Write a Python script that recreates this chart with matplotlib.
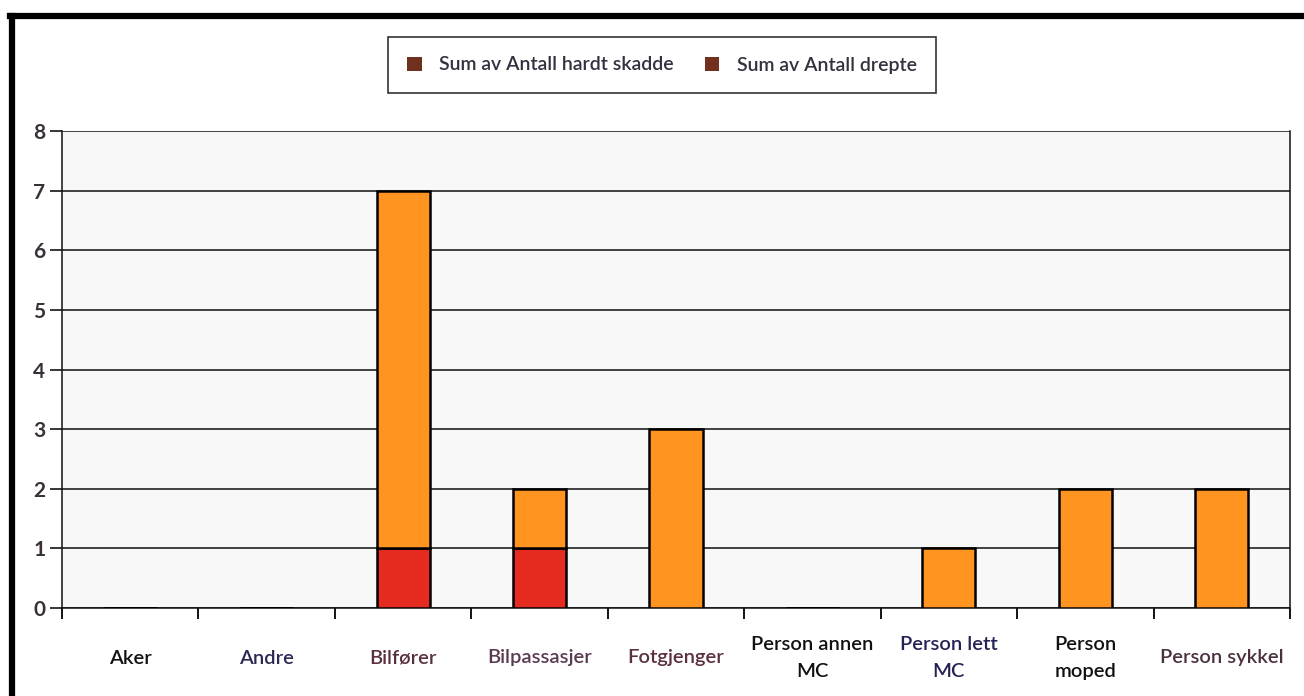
import matplotlib.pyplot as plt
import numpy as np
from matplotlib.patches import Patch
from matplotlib.lines import Line2D

# -----------------------------
# Data
# -----------------------------
categories = ['Aker', 'Andre', 'Bilfører', 'Bilpassasjer', 'Fotgjenger',
              'Person annen\nMC', 'Person lett\nMC', 'Person\nmoped', 'Person sykkel']
drepte = [0, 0, 1, 1, 0, 0, 0, 0, 0]
hardt_skadde = [0, 0, 6, 1, 3, 0, 1, 2, 2]
label_colors = ['#111111', '#2a2a55', '#5a3040', '#5a3a50', '#5a3040',
                '#111111', '#222255', '#111111', '#4a3040']
y_ticks = [0, 1, 2, 3, 4, 5, 6, 7, 8]

plt.rcParams['font.family'] = ['Lato', 'DejaVu Sans']

fig = plt.figure(figsize=(13.04, 6.96), dpi=100)
fig.patch.set_facecolor('white')
ax = fig.add_axes([62/1304, 1-608/696, (1290-62)/1304, (608-131)/696])
ax.set_facecolor('#f8f8f8')

x = np.arange(len(categories))
w = 0.39
ax.bar(x, drepte, w, color='#e52a20', edgecolor='black', linewidth=1.8, zorder=3)
ax.bar(x, hardt_skadde, w, bottom=drepte, color='#ff9420', edgecolor='black',
       linewidth=1.8, zorder=3)

ax.set_xlim(-0.5, len(categories) - 0.5)
ax.set_ylim(0, 8)
ax.set_yticks(y_ticks)
ax.set_yticklabels([str(v) for v in y_ticks], fontsize=15, fontweight='bold', color='#3a3038')
ax.yaxis.grid(True, color='#111111', linewidth=1.1, zorder=1)
ax.set_axisbelow(True)
ax.tick_params(axis='y', direction='out', length=9, width=1.1, pad=3)

# labels at category centres, ticks at the boundaries
ax.set_xticks(x)
ax.set_xticklabels(categories, fontsize=14.5, fontweight='semibold')
ax.tick_params(axis='x', which='major', length=0, pad=36)
for lbl, c in zip(ax.get_xticklabels(), label_colors):
    lbl.set_color(c)
    lbl.set_verticalalignment('center')
    lbl.set_linespacing(1.75)
ax.set_xticks(np.arange(len(categories) + 1) - 0.5, minor=True)
ax.tick_params(axis='x', which='minor', direction='out', length=8, width=1.3)

ax.spines['top'].set_visible(False)
for s in ['left', 'bottom', 'right']:
    ax.spines[s].set_color('#111111')
    ax.spines[s].set_linewidth(1.1)

# legend (swatches appear dark brown in the original)
handles = [Patch(facecolor='#70301f', edgecolor='none', label='Sum av Antall hardt skadde'),
           Patch(facecolor='#74301f', edgecolor='none', label='Sum av Antall drepte')]
leg = fig.legend(handles=handles, loc='center', bbox_to_anchor=(662/1304, 1-65/696),
                 ncol=2, frameon=True, fancybox=False,
                 prop={'size': 14, 'weight': 'semibold'},
                 handlelength=0.75, handleheight=0.75, handletextpad=0.9,
                 columnspacing=1.6, borderpad=1.0, labelcolor='#33303f')
leg.get_frame().set_edgecolor('black')
leg.get_frame().set_linewidth(1.2)
leg.get_frame().set_boxstyle('square', pad=0)

# outer frame of the screenshot
fig.add_artist(Line2D([12/1304, 12/1304], [0, 1-16/696], color='black', linewidth=4.5,
                      transform=fig.transFigure))
fig.add_artist(Line2D([10/1304, 1], [1-16/696, 1-16/696], color='black', linewidth=4.5,
                      transform=fig.transFigure))

fig.savefig('out.png', dpi=100)
